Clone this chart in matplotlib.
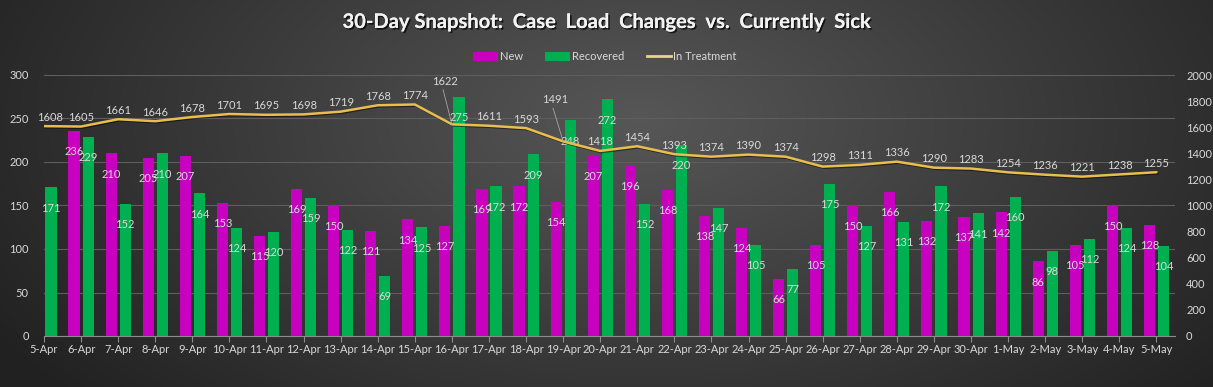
import matplotlib

matplotlib.use("Agg")
import matplotlib.pyplot as plt
import matplotlib.patheffects as pe
import numpy as np
from matplotlib.lines import Line2D
from matplotlib.patches import Patch

dates = [
    "5-Apr", "6-Apr", "7-Apr", "8-Apr", "9-Apr", "10-Apr", "11-Apr", "12-Apr",
    "13-Apr", "14-Apr", "15-Apr", "16-Apr", "17-Apr", "18-Apr", "19-Apr", "20-Apr",
    "21-Apr", "22-Apr", "23-Apr", "24-Apr", "25-Apr", "26-Apr", "27-Apr", "28-Apr",
    "29-Apr", "30-Apr", "1-May", "2-May", "3-May", "4-May", "5-May",
]
new_cases = [
    None, 236, 210, 205, 207, 153, 115, 169, 150, 121, 134, 127, 169, 172, 154, 207,
    196, 168, 138, 124, 66, 105, 150, 166, 132, 137, 142, 86, 105, 150, 128,
]
recovered = [
    171, 229, 152, 210, 164, 124, 120, 159, 122, 69, 125, 275, 172, 209, 248, 272,
    152, 220, 147, 105, 77, 175, 127, 131, 172, 141, 160, 98, 112, 124, 104,
]
in_treatment = [
    1608, 1605, 1661, 1646, 1678, 1701, 1695, 1698, 1719, 1768, 1774, 1622, 1611, 1593, 1491, 1418,
    1454, 1393, 1374, 1390, 1374, 1298, 1311, 1336, 1290, 1283, 1254, 1236, 1221, 1238, 1255,
]

MAGENTA = "#C800C0"
GREEN = "#00B050"
GOLD = "#E8BE4E"
TEXT = "#D9D9D9"
GRID = "#5E5E5E"

plt.rcParams["font.family"] = ["Lato", "DejaVu Sans"]

W, H = 1213, 387
fig = plt.figure(figsize=(W / 100, H / 100), dpi=100)

# radial gradient background, lighter towards the top middle
bg = fig.add_axes([0, 0, 1, 1], zorder=-10)
yy, xx = np.mgrid[0:H, 0:W]
dist = np.sqrt(((xx - 640) / 760.0) ** 2 + ((yy - 120) / 420.0) ** 2)
shade = np.clip(0.34 - 0.21 * dist, 0.13, 0.34)
bg.imshow(np.dstack([shade, shade, shade]), aspect="auto", extent=(0, 1, 0, 1))
bg.axis("off")

ax = fig.add_axes([44 / W, 1 - 336 / H, (1175 - 44) / W, (336 - 75) / H])
ax.set_facecolor("none")
x = np.arange(len(dates))
new_vals = np.array([np.nan if v is None else v for v in new_cases], dtype=float)
rec_vals = np.array(recovered, dtype=float)

bw = 0.30
off = 0.19
ax.bar(x - off, new_vals, bw, color=MAGENTA, zorder=3)
ax.bar(x + off, rec_vals, bw, color=GREEN, zorder=3)

ax.set_xlim(0, len(dates) - 0.5)
ax.set_ylim(0, 300)
ax.set_yticks(np.arange(0, 301, 50))
ax.grid(axis="y", color=GRID, linewidth=0.8, zorder=0)
ax.set_axisbelow(True)
for side in ("left", "right", "top"):
    ax.spines[side].set_visible(False)
ax.spines["bottom"].set_color("#8C8C8C")
ax.set_xticks(x)
ax.set_xticklabels(dates)
ax.tick_params(axis="x", colors="#8C8C8C", length=4, width=0.8, labelcolor=TEXT, labelsize=8, pad=2)
ax.tick_params(axis="y", length=0, labelcolor=TEXT, labelsize=8, pad=11)

for xi, v in zip(x, new_vals):
    if not np.isnan(v):
        ax.annotate(f"{int(v)}", (xi - off, v), xytext=(0, -15), textcoords="offset points",
                    ha="center", va="center", color=TEXT, fontsize=8, zorder=5, clip_on=False)
for xi, v in zip(x, rec_vals):
    ax.annotate(f"{int(v)}", (xi + off, v), xytext=(0, -15), textcoords="offset points",
                ha="center", va="center", color=TEXT, fontsize=8, zorder=5, clip_on=False)

ax2 = ax.twinx()
ax2.set_ylim(0, 2000)
ax2.set_yticks(np.arange(0, 2001, 200))
for side in ("left", "right", "top", "bottom"):
    ax2.spines[side].set_visible(False)
ax2.tick_params(axis="y", length=0, labelcolor=TEXT, labelsize=8, pad=8)
ax2.plot(x, in_treatment, color=GOLD, linewidth=1.8, zorder=4, solid_capstyle="round",
         path_effects=[pe.SimpleLineShadow(offset=(0.8, -0.8), alpha=0.5), pe.Normal()])

# two labels were pulled up with leader lines in the original
moved = {11: (-5, 27), 14: (-6, 26)}
for i, v in enumerate(in_treatment):
    if i in moved:
        dx, dy = moved[i]
        ax2.annotate(f"{v}", (x[i], v), xytext=(dx, dy), textcoords="offset points",
                     ha="center", va="bottom", color=TEXT, fontsize=8, zorder=6,
                     arrowprops=dict(arrowstyle="-", color="#A6A6A6", lw=0.6,
                                     shrinkA=0, shrinkB=0, relpos=(0.4, 0.0)))
    else:
        dx = 4 if i == 0 else 0
        ax2.annotate(f"{v}", (x[i], v), xytext=(dx, 2.5), textcoords="offset points",
                     ha="center", va="bottom", color=TEXT, fontsize=8, zorder=6)

fig.text(0.5, 1 - 22 / H, "30-Day Snapshot:  Case  Load  Changes  vs.  Currently  Sick",
         ha="center", va="center", color="#F2F2F2", fontsize=14.5, fontweight="bold",
         path_effects=[pe.withSimplePatchShadow(offset=(1.2, -1.2), shadow_rgbFace="black", alpha=0.7),
                       pe.Normal()])

handles = [
    Patch(facecolor=MAGENTA, edgecolor="none", label="New"),
    Patch(facecolor=GREEN, edgecolor="none", label="Recovered"),
    Line2D([0], [0], color="#E6D68A", linewidth=2, label="In Treatment"),
]
fig.legend(handles=handles, loc="center", bbox_to_anchor=(605 / W, 1 - 57 / H), ncol=3,
           frameon=False, fontsize=8, labelcolor=TEXT, handlelength=2.2, handleheight=0.9,
           handletextpad=0.2, columnspacing=2.0)

fig.savefig("out.png", dpi=100)
